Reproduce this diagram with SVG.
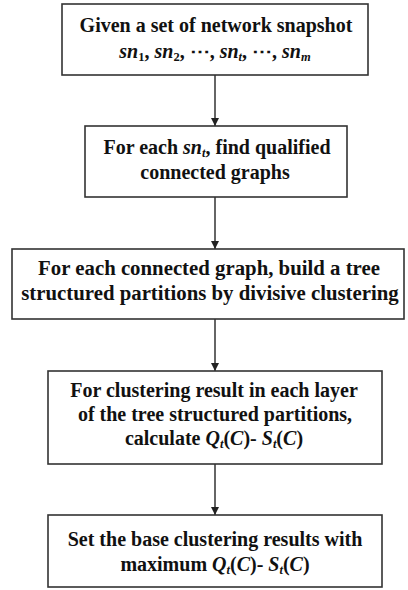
<svg xmlns="http://www.w3.org/2000/svg" width="408" height="590" viewBox="0 0 408 590">
<defs>
<style>
.box{fill:#fff;stroke:#333;stroke-width:1.6}
.t{font-family:"Liberation Serif","Times New Roman",serif;font-weight:bold;font-size:20px;fill:#111;text-anchor:middle}
.big{font-size:20.8px}
.i{font-style:italic}
.sub{font-size:12.5px}
.edge{stroke:#333;stroke-width:1.5;fill:none;marker-end:url(#arr)}
</style>
<marker id="arr" viewBox="0 0 10 10" refX="10" refY="5" markerWidth="8" markerHeight="8" markerUnits="userSpaceOnUse" orient="auto">
<path d="M0,0 L10,5 L0,10 z" fill="#222"/>
</marker>
</defs>
<rect width="408" height="590" fill="#fff"/>
<g id="connectors">
<line class="edge" x1="215" y1="75" x2="215" y2="126"/>
<line class="edge" x1="215" y1="197" x2="215" y2="249"/>
<line class="edge" x1="215" y1="319" x2="215" y2="371"/>
<line class="edge" x1="215" y1="464" x2="215" y2="515"/>
</g>
<g id="n1">
<rect class="box" x="62" y="4" width="306" height="71"/>
<text class="t" x="216" y="32">Given a set of network snapshot</text>
<text class="t" x="215" y="58"><tspan class="i">sn</tspan><tspan class="sub" dy="3">1</tspan><tspan dy="-3">, </tspan><tspan class="i">sn</tspan><tspan class="sub" dy="3">2</tspan><tspan dy="-3">, ⋯, </tspan><tspan class="i">sn</tspan><tspan class="sub i" dy="3">t</tspan><tspan dy="-3">, ⋯, </tspan><tspan class="i">sn</tspan><tspan class="sub i" dy="3">m</tspan></text>
</g>
<g id="n2">
<rect class="box" x="85" y="126" width="262" height="71"/>
<text class="t" x="217" y="154">For each <tspan class="i">sn</tspan><tspan class="sub i" dy="3">t</tspan><tspan dy="-3">, find qualified</tspan></text>
<text class="t" x="215" y="179">connected graphs</text>
</g>
<g id="n3">
<rect class="box" x="12" y="249" width="392" height="70"/>
<text class="t big" x="209" y="275">For each connected graph, build a tree</text>
<text class="t big" x="210" y="300">structured partitions by divisive clustering</text>
</g>
<g id="n4">
<rect class="box" x="48" y="371" width="334" height="93"/>
<text class="t" x="214" y="397">For clustering result in each layer</text>
<text class="t" x="215" y="421">of the tree structured partitions,</text>
<text class="t" x="214" y="445">calculate <tspan class="i">Q</tspan><tspan class="sub i" dy="3">t</tspan><tspan dy="-3">(</tspan><tspan class="i">C</tspan><tspan>)- </tspan><tspan class="i">S</tspan><tspan class="sub i" dy="3">t</tspan><tspan dy="-3">(</tspan><tspan class="i">C</tspan><tspan>)</tspan></text>
</g>
<g id="n5">
<rect class="box" x="48" y="515" width="334" height="72"/>
<text class="t" x="215" y="546">Set the base clustering results with</text>
<text class="t" x="215" y="571">maximum <tspan class="i">Q</tspan><tspan class="sub i" dy="3">t</tspan><tspan dy="-3">(</tspan><tspan class="i">C</tspan><tspan>)- </tspan><tspan class="i">S</tspan><tspan class="sub i" dy="3">t</tspan><tspan dy="-3">(</tspan><tspan class="i">C</tspan><tspan>)</tspan></text>
</g>
</svg>
